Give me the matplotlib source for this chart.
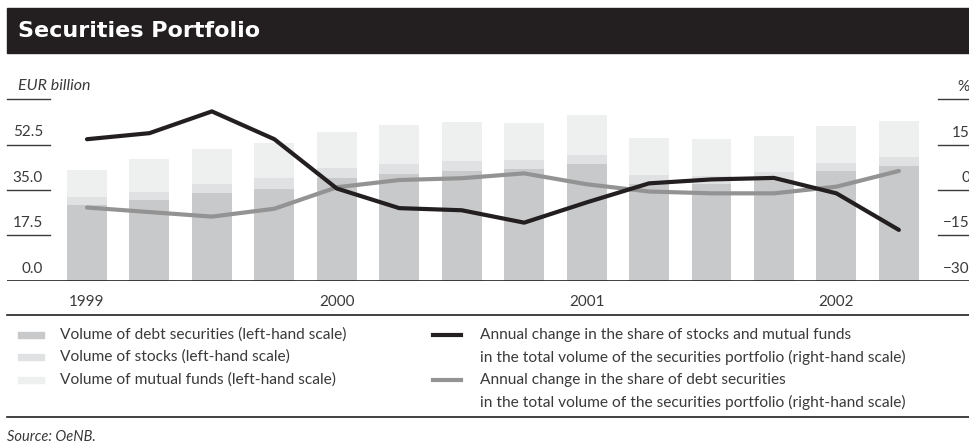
import numpy as np
import matplotlib
matplotlib.use("Agg")
import matplotlib.pyplot as plt
from matplotlib.patches import Rectangle
from matplotlib.lines import Line2D
import matplotlib.transforms as mtransforms

# quarterly data 1999 Q1 - 2002 Q2
quarters = ["1999Q1", "1999Q2", "1999Q3", "1999Q4",
            "2000Q1", "2000Q2", "2000Q3", "2000Q4",
            "2001Q1", "2001Q2", "2001Q3", "2001Q4",
            "2002Q1", "2002Q2"]
year_labels = ["1999", "2000", "2001", "2002"]
year_pos = [0, 4, 8, 12]

debt = [29.2, 31.2, 33.9, 35.4, 39.7, 41.2, 42.4, 43.2, 45.0, 37.3, 37.5, 38.9, 42.4, 44.3]
stocks = [3.2, 3.0, 3.4, 4.3, 3.8, 3.8, 3.8, 3.4, 3.5, 3.5, 2.9, 3.0, 3.0, 3.4]
funds = [10.3, 12.8, 13.6, 13.5, 13.9, 15.1, 15.1, 14.3, 15.5, 14.3, 14.3, 14.0, 14.3, 14.0]

chg_stocks_funds = [16.8, 18.8, 26.0, 16.8, 0.5, -6.0, -6.7, -10.8, -4.1, 2.2, 3.5, 4.0, -1.1, -13.2]
chg_debt = [-5.8, -7.3, -8.8, -6.2, 0.9, 3.3, 3.9, 5.5, 1.9, -0.5, -1.1, -1.1, 1.1, 6.3]

left_ticks = [0.0, 17.5, 35.0, 52.5, 70.0]
right_ticks = [-30, -15, 0, 15, 30]

c_debt = "#c8c9cb"
c_stocks = "#e0e1e3"
c_funds = "#eeefef"
c_black = "#231f20"
c_gray = "#939393"
c_text = "#3a3a3a"

plt.rcParams['font.family'] = ['Lato', 'DejaVu Sans']

W, H = 970, 446
fig = plt.figure(figsize=(9.7, 4.46), dpi=100)

def fx(px):
    return px / W

def fy(py):
    return 1 - py / H

# title bar
fig.patches.append(Rectangle((fx(7), fy(53)), fx(970) - fx(7), fy(8) - fy(53),
                             transform=fig.transFigure, color=c_black, zorder=0))
fig.text(fx(18), fy(31), "Securities Portfolio", color="white", fontsize=16,
         fontweight="bold", family="DejaVu Sans", va="center", ha="left")

# main axes: x pixel 7..970, y pixel 99.3..280.7
ax = fig.add_axes([fx(7), fy(280.7), fx(970) - fx(7), fy(99.3) - fy(280.7)])
x = np.arange(len(quarters))
ax.set_xlim(-80 / 62.45, (963 - 80) / 62.45)
ax.set_ylim(0, 70)
ax.bar(x, debt, width=0.64, color=c_debt, zorder=2)
ax.bar(x, stocks, width=0.64, bottom=debt, color=c_stocks, zorder=2)
ax.bar(x, funds, width=0.64, bottom=np.array(debt) + np.array(stocks), color=c_funds, zorder=2)
for s in ax.spines.values():
    s.set_visible(False)
ax.set_xticks([])
ax.set_yticks([])
ax.axhline(0, color=c_black, lw=1.2, zorder=5)

ax2 = ax.twinx()
ax2.set_ylim(-30, 30)
for s in ax2.spines.values():
    s.set_visible(False)
ax2.set_yticks([])
ax2.plot(x, chg_debt, color=c_gray, lw=3.0, solid_capstyle="round", solid_joinstyle="round", zorder=3)
ax2.plot(x, chg_stocks_funds, color=c_black, lw=3.0, solid_capstyle="round", solid_joinstyle="round", zorder=4)

# tick lines and labels
trl = mtransforms.blended_transform_factory(ax.transAxes, ax.transData)
for t in left_ticks:
    if t > 0:
        ax.plot([0, (50 - 7) / (970 - 7)], [t, t], transform=trl, color=c_text, lw=1.0, clip_on=False)
    if t < 70:
        ax.text((43 - 7) / (970 - 7), t + 2.0, f"{t:.1f}", transform=trl, ha="right", va="bottom",
                fontsize=11, color=c_text)
ax.text((18 - 7) / (970 - 7), 70 + 2.4, "EUR billion", transform=trl, ha="left", va="bottom",
        fontsize=11.5, color=c_text, style="italic")

trr = mtransforms.blended_transform_factory(ax2.transAxes, ax2.transData)
for t in right_ticks:
    if t > -30:
        ax2.plot([(938 - 7) / (970 - 7), 1], [t, t], transform=trr, color=c_text, lw=1.0, clip_on=False)
    lab = "%" if t == 30 else str(t).replace("-", "\u2212")
    ax2.text(1.0, t + 1.7, lab, transform=trr, ha="right", va="bottom",
             fontsize=11, color=c_text, clip_on=False)

# year labels
for p, lab in zip(year_pos, year_labels):
    ax.text(p, -5.5, lab, ha="center", va="top", fontsize=11, color=c_text)

# legend area
fig.add_artist(Line2D([fx(7), fx(970)], [fy(315), fy(315)], color=c_black, lw=1.2))
fig.add_artist(Line2D([fx(7), fx(970)], [fy(417), fy(417)], color=c_black, lw=1.2))

legend_left = [("Volume of debt securities (left-hand scale)", c_debt, 335),
               ("Volume of stocks (left-hand scale)", c_stocks, 357),
               ("Volume of mutual funds (left-hand scale)", c_funds, 380)]
for lab, col, yy in legend_left:
    fig.patches.append(Rectangle((fx(18), fy(yy + 3)), fx(26), fy(0) - fy(6),
                                 transform=fig.transFigure, color=col))
    fig.text(fx(60), fy(yy), lab, ha="left", va="center", fontsize=11.2, color=c_text)

fig.add_artist(Line2D([fx(433), fx(461)], [fy(335), fy(335)], color=c_black, lw=3.0))
fig.add_artist(Line2D([fx(433), fx(461)], [fy(380), fy(380)], color=c_gray, lw=3.0))
legend_right = [("Annual change in the share of stocks and mutual funds", 335),
                ("in the total volume of the securities portfolio (right-hand scale)", 357),
                ("Annual change in the share of debt securities", 380),
                ("in the total volume of the securities portfolio (right-hand scale)", 402)]
for lab, yy in legend_right:
    fig.text(fx(480), fy(yy), lab, ha="left", va="center", fontsize=11.2, color=c_text)

fig.text(fx(7), fy(437), "Source: OeNB.", ha="left", va="center", fontsize=10.5,
         color=c_text, style="italic")

fig.savefig("out.png", dpi=100)
